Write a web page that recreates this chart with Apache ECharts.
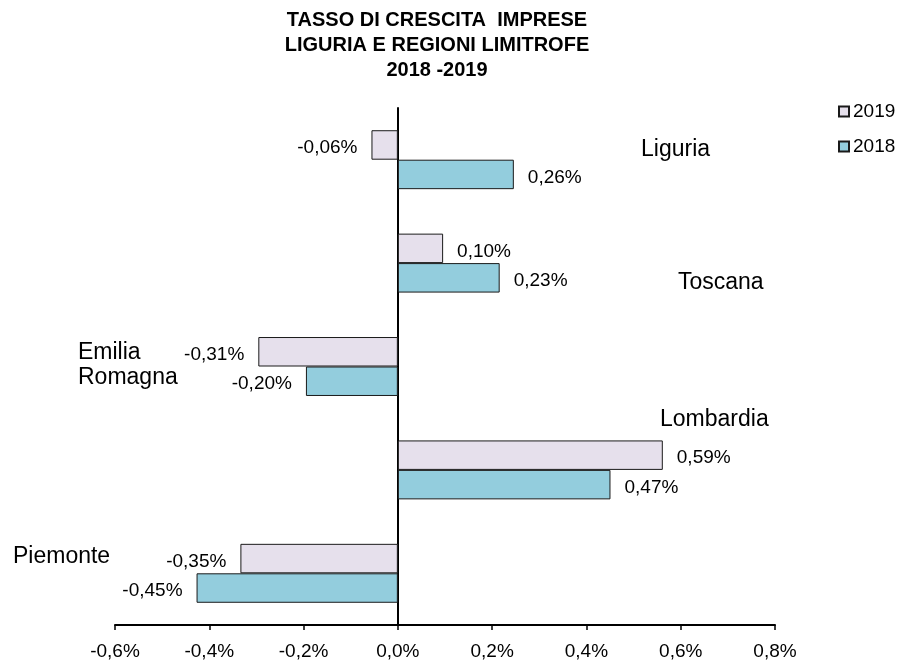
<!DOCTYPE html>
<html>
<head>
<meta charset="utf-8">
<script src="https://cdn.jsdelivr.net/npm/echarts@6/dist/echarts.min.js"></script>
<style>html,body{margin:0;padding:0;background:#fff}#c{width:902px;height:662px}</style>
</head>
<body>
<div id="c"></div>
<script>
const categories = ['Liguria', 'Toscana', 'Emilia\nRomagna', 'Lombardia', 'Piemonte'];
const seriesNames = ['2019', '2018'];
const values2019 = [-0.056, 0.096, -0.296, 0.562, -0.334];
const values2018 = [0.246, 0.216, -0.195, 0.451, -0.427];
const labels2019 = ['-0,06%', '0,10%', '-0,31%', '0,59%', '-0,35%'];
const labels2018 = ['0,26%', '0,23%', '-0,20%', '0,47%', '-0,45%'];
const xMin = -0.6, xMax = 0.8, xStep = 0.2;
const titleText = 'TASSO DI CRESCITA  IMPRESE\nLIGURIA E REGIONI LIMITROFE\n2018 -2019';

const FONT = "'Liberation Sans', Arial, sans-serif";
const catLabelPos = [[641, 150], [678, 283], [78, 340], [660, 420], [13, 557]];

function mkData(vals) {
  return vals.map(v => ({
    value: v,
    label: { position: v < 0 ? 'left' : 'right' }
  }));
}

const chart = echarts.init(document.getElementById('c'), null, { renderer: 'canvas' });
const graphics = [{
  type: 'text', x: 437, y: 8,
  style: { text: titleText, font: 'bold 20px ' + FONT, fill: '#000', align: 'center', verticalAlign: 'top', lineHeight: 25 }
}];
categories.forEach((c, i) => {
  const multi = c.indexOf('\n') >= 0;
  graphics.push({
    type: 'text', x: catLabelPos[i][0], y: catLabelPos[i][1],
    style: { text: c, font: '23px ' + FONT, fill: '#000', align: 'left', verticalAlign: multi ? 'top' : 'middle', lineHeight: 25 }
  });
});

chart.setOption({
  animation: false,
  textStyle: { fontFamily: FONT },
  grid: { left: 115, right: 127, top: 108, bottom: 37, containLabel: false },
  legend: {
    data: seriesNames, orient: 'vertical', left: 838, top: 102, padding: 0,
    itemWidth: 10, itemHeight: 10, itemGap: 16, icon: 'rect',
    textStyle: { fontSize: 19, color: '#000', fontFamily: FONT, padding: [0, 0, 0, -1] }
  },
  xAxis: {
    type: 'value', min: xMin, max: xMax, interval: xStep,
    splitLine: { show: false },
    axisLine: { show: true, lineStyle: { color: '#000', width: 2 } },
    axisTick: { show: true, length: 5, lineStyle: { color: '#000', width: 1.5 } },
    axisLabel: {
      fontSize: 19, color: '#000', margin: 17, fontFamily: FONT,
      formatter: v => v.toFixed(1).replace('.', ',') + '%'
    }
  },
  yAxis: {
    type: 'category', data: categories, inverse: true,
    axisLabel: { show: false }, axisTick: { show: false },
    axisLine: { show: true, onZero: true, lineStyle: { color: '#000', width: 2 } },
    splitLine: { show: false }
  },
  series: [
    {
      name: seriesNames[0], type: 'bar', data: mkData(values2019),
      barGap: '0%', barCategoryGap: '43%', z: 1,
      itemStyle: { color: '#E6E0EC', borderColor: '#1a1a1a', borderWidth: 1 },
      label: { show: true, distance: 14, offset: [0, 3], fontSize: 19, color: '#000', fontFamily: FONT,
        formatter: p => labels2019[p.dataIndex] }
    },
    {
      name: seriesNames[1], type: 'bar', data: mkData(values2018),
      barGap: '0%', barCategoryGap: '43%', z: 1,
      itemStyle: { color: '#93CDDD', borderColor: '#1a1a1a', borderWidth: 1 },
      label: { show: true, distance: 14, offset: [0, 3], fontSize: 19, color: '#000', fontFamily: FONT,
        formatter: p => labels2018[p.dataIndex] }
    }
  ],
  graphic: graphics
});
</script>
</body>
</html>
